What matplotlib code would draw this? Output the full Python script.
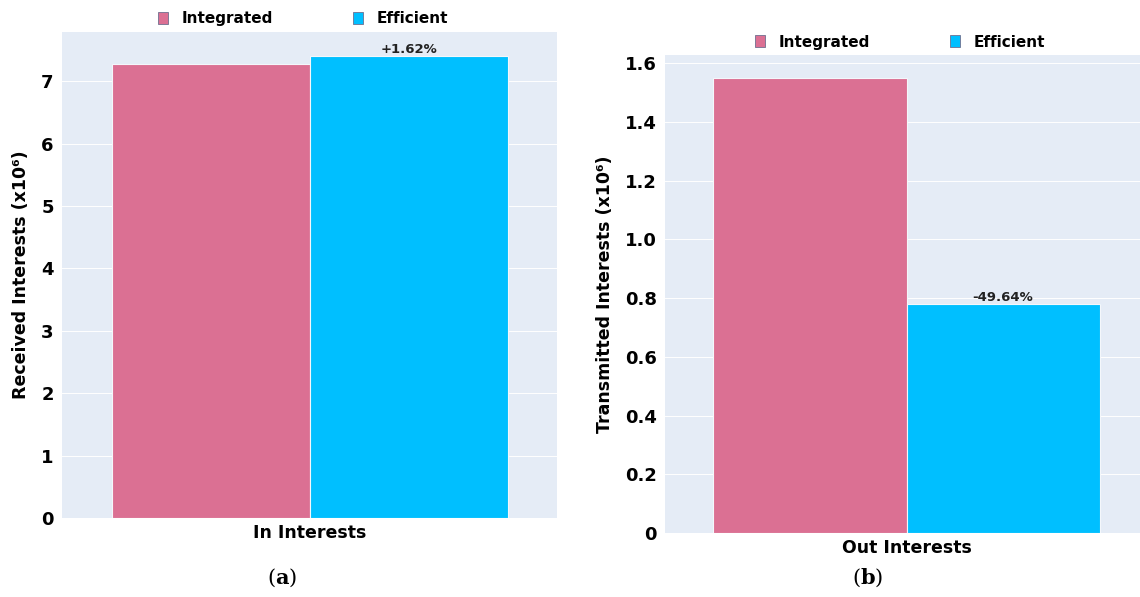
import matplotlib
matplotlib.use("Agg")
import matplotlib.pyplot as plt
from matplotlib.patches import Patch

plt.rcParams["mathtext.fontset"] = "dejavuserif"

# Data (values in millions)
series_names = ["Integrated", "Efficient"]
colors = ["#DB7093", "#00BFFF"]

in_category = "In Interests"
in_values = [7.28, 7.398]
in_change = "+1.62%"

out_category = "Out Interests"
out_values = [1.548, 0.7796]
out_change = "-49.64%"

BG = "#E5ECF6"
FONT = "DejaVu Sans"

fig = plt.figure(figsize=(11.4, 5.97), dpi=100)
fig.patch.set_facecolor("white")


def panel(rect, values, category, change, ylim, ticks, ticklabels, ylabel, caption, caption_x):
    ax = fig.add_axes(rect)
    ax.set_facecolor(BG)
    for s in ax.spines.values():
        s.set_visible(False)
    offsets = [-0.2, 0.2]
    for off, v, c in zip(offsets, values, colors):
        ax.bar(off, v, width=0.4, color=c, edgecolor="#F4F7FB", linewidth=0.8, zorder=3)
    ax.set_xlim(-0.5, 0.5)
    ax.set_ylim(*ylim)
    ax.set_yticks(ticks)
    ax.set_yticklabels(ticklabels, fontsize=13, fontweight="bold", family=FONT)
    ax.set_xticks([])
    ax.tick_params(axis="y", length=0, pad=6)
    ax.grid(axis="y", color="white", linewidth=0.7, zorder=0)
    ax.set_axisbelow(True)
    ax.set_ylabel(ylabel, fontsize=12.5, fontweight="bold", family=FONT, labelpad=8)
    ax.set_xlabel(category, fontsize=12.5, fontweight="bold", family=FONT, labelpad=4)
    ax.text(0.2, values[1], change, ha="center", va="bottom", fontsize=9.5,
            fontweight="bold", family=FONT, color="#222222")
    handles = [Patch(facecolor=c, edgecolor="#6F6F8F", linewidth=0.6) for c in colors]
    ax.legend(handles, series_names, ncol=2, loc="center", bbox_to_anchor=(0.487, 1.027),
              frameon=False, handlelength=0.65, handleheight=0.85, handletextpad=0.9,
              columnspacing=5.2, prop={"family": FONT, "weight": "bold", "size": 11},
              borderaxespad=0)
    fig.text(caption_x, 0.032, "(" + r"$\mathbf{" + caption + "}$" + ")", ha="center",
             va="center", fontsize=15, family="DejaVu Serif")
    return ax


ax1 = panel([62 / 1140, 1 - 518 / 597, 495 / 1140, 486 / 597],
            in_values, in_category, in_change, (0, 7.79),
            list(range(8)), [str(i) for i in range(8)],
            "Received Interests (x10⁶)", "a", 282 / 1140)

ax2 = panel([665 / 1140, 1 - 533 / 597, 483 / 1140, 478 / 597],
            out_values, out_category, out_change, (0, 1.628),
            [0, 0.2, 0.4, 0.6, 0.8, 1.0, 1.2, 1.4, 1.6],
            ["0", "0.2", "0.4", "0.6", "0.8", "1.0", "1.2", "1.4", "1.6"],
            "Transmitted Interests (x10⁶)", "b", 868 / 1140)

fig.savefig("out.png", dpi=100, facecolor="white")
